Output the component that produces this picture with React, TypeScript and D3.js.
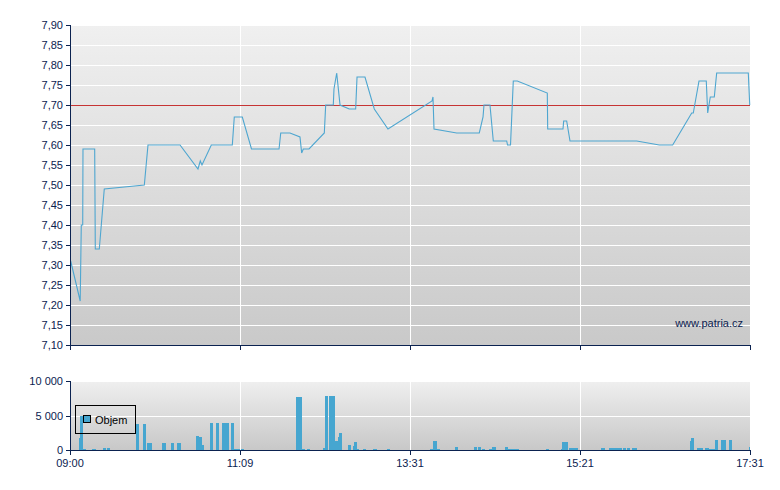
import React from "react";
import * as d3 from "d3";

// x values are positions within the trading session, 0..100 (% of session)
const timeTicks = [0, 25, 50, 75, 100];
const timeLabels = ["09:00", "11:09", "13:31", "15:21", "17:31"];

const priceTicks = [7.1, 7.15, 7.2, 7.25, 7.3, 7.35, 7.4, 7.45, 7.5, 7.55, 7.6, 7.65, 7.7, 7.75, 7.8, 7.85, 7.9];
const referencePrice = 7.7;

const pricePos = [0.1, 1.5, 1.66, 1.87, 1.91, 3.63, 3.72, 4.31, 5.04, 10.93, 11.47, 16.18, 18.82, 19.16, 19.41, 20.78, 23.87, 24.16, 25.34, 26.69, 30.74, 30.99, 32.35, 33.82, 34.07, 34.31, 35.15, 37.4, 37.6, 38.72, 38.82, 39.22, 39.71, 41.07, 42.01, 42.21, 43.38, 44.75, 46.76, 53.24, 53.38, 53.53, 56.87, 60.19, 60.74, 60.88, 61.76, 62.25, 64.22, 64.34, 64.78, 65.19, 65.78, 70.19, 70.25, 72.5, 72.6, 73.04, 73.53, 83.34, 86.66, 88.63, 91.43, 91.66, 92.5, 93.57, 93.78, 94.16, 94.75, 95.1, 99.75, 99.96];
const priceVal = [7.31, 7.21, 7.4, 7.4, 7.59, 7.59, 7.34, 7.34, 7.49, 7.5, 7.6, 7.6, 7.54, 7.56, 7.55, 7.6, 7.6, 7.67, 7.67, 7.59, 7.59, 7.63, 7.63, 7.62, 7.58, 7.59, 7.59, 7.63, 7.7, 7.7, 7.74, 7.78, 7.7, 7.69, 7.69, 7.77, 7.77, 7.69, 7.64, 7.71, 7.72, 7.64, 7.63, 7.63, 7.67, 7.7, 7.7, 7.61, 7.61, 7.6, 7.6, 7.76, 7.76, 7.73, 7.64, 7.64, 7.66, 7.66, 7.61, 7.61, 7.6, 7.6, 7.68, 7.68, 7.76, 7.76, 7.68, 7.72, 7.72, 7.78, 7.78, 7.7];

const volStart = [1.32, 1.47, 1.96, 3.24, 4.85, 5.44, 9.71, 10.69, 11.32, 13.53, 14.85, 15.74, 18.53, 18.93, 19.41, 20.59, 21.47, 22.35, 23.68, 24.12, 25.1, 33.24, 34.12, 34.81, 37.21, 37.5, 38.13, 38.97, 39.41, 39.56, 40.88, 41.62, 41.76, 42.21, 43.09, 44.56, 46.62, 52.94, 53.38, 53.97, 56.62, 59.41, 60.0, 60.59, 61.62, 62.06, 63.97, 64.41, 70.0, 72.21, 72.35, 73.38, 78.09, 79.26, 81.32, 81.91, 82.65, 91.18, 91.32, 92.21, 93.38, 93.97, 94.85, 95.74, 96.91, 99.85];
const volEnd = [1.47, 1.96, 2.35, 3.82, 5.29, 5.88, 10.15, 11.18, 12.06, 14.12, 15.29, 16.32, 18.93, 19.41, 19.71, 21.03, 21.91, 23.43, 24.12, 25.0, 25.54, 34.12, 34.56, 35.29, 37.5, 37.99, 38.97, 39.41, 39.56, 40.0, 41.32, 41.76, 42.21, 42.5, 43.53, 45.15, 47.06, 53.38, 53.97, 54.41, 57.06, 59.85, 60.44, 61.03, 62.06, 62.65, 64.41, 66.03, 70.44, 72.35, 73.24, 74.71, 78.68, 81.18, 81.76, 82.35, 83.38, 91.32, 91.76, 93.09, 93.97, 94.85, 95.29, 96.47, 97.35, 100];
const volValue = [1740, 4900, 200, 150, 300, 300, 3770, 3770, 1000, 1000, 1000, 1000, 2030, 1900, 700, 3960, 3960, 3960, 3960, 150, 150, 7680, 150, 150, 300, 7830, 7830, 1300, 1880, 2460, 700, 580, 1160, 150, 150, 150, 150, 150, 1300, 150, 430, 430, 430, 150, 150, 430, 430, 150, 150, 150, 1160, 300, 300, 300, 300, 300, 300, 1300, 1740, 300, 300, 150, 1450, 1450, 1450, 430];

const volTicks = [0, 5000, 10000];
const volLabels = ["0", "5 000", "10 000"];

const NAVY = "#0b2250";
const LINE = "#4ea6d0";
const BAR = "#46a6d0";
const FONT = "'Liberation Sans', Arial, sans-serif";

export default function App() {
  const x = d3.scaleLinear().domain([0, 100]).range([70, 750]);
  const yP = d3.scaleLinear().domain([7.1, 7.9]).range([345, 25]);
  const yV = d3.scaleLinear().domain([0, 10000]).range([450, 381]);

  const pts: [number, number][] = pricePos.map((p, i) => [p, priceVal[i]]);
  const line = d3
    .line<[number, number]>()
    .x((d) => x(d[0]))
    .y((d) => yP(d[1]));

  const fmt = (v: number) => v.toFixed(2).replace(".", ",");

  return (
    <svg
      width={780}
      height={490}
      style={{ position: "absolute", left: 0, top: 0, background: "#fff" }}
      fontFamily={FONT}
    >
      <defs>
        <linearGradient id="bgP" x1="0" y1="0" x2="0" y2="1">
          <stop offset="0" stopColor="#f0f0f0" />
          <stop offset="1" stopColor="#c9c9c9" />
        </linearGradient>
        <linearGradient id="bgV" x1="0" y1="0" x2="0" y2="1">
          <stop offset="0" stopColor="#efefef" />
          <stop offset="1" stopColor="#c8c8c8" />
        </linearGradient>
      </defs>

      {/* price panel */}
      <rect x={x(0)} y={yP(7.9)} width={x(100) - x(0)} height={yP(7.1) - yP(7.9)} fill="url(#bgP)" />
      <g shapeRendering="crispEdges">
        {priceTicks.map((t) => (
          <line key={"hg" + t} x1={x(0)} x2={x(100)} y1={Math.round(yP(t)) + 0.5} y2={Math.round(yP(t)) + 0.5} stroke="#fff" strokeWidth={1.5} />
        ))}
        {timeTicks.slice(1, -1).map((t) => (
          <line key={"vg" + t} x1={Math.round(x(t)) + 0.5} x2={Math.round(x(t)) + 0.5} y1={yP(7.9)} y2={yP(7.1)} stroke="#fff" strokeWidth={1.5} />
        ))}
        <line x1={x(0)} x2={x(100)} y1={Math.round(yP(referencePrice)) + 0.5} y2={Math.round(yP(referencePrice)) + 0.5} stroke="#c63434" strokeWidth={1} />
      </g>
      <path d={line(pts) || ""} fill="none" stroke={LINE} strokeWidth={1.1} />
      <text x={743} y={327} fontSize={11} fill={NAVY} textAnchor="end">www.patria.cz</text>

      {/* price axes */}
      <g shapeRendering="crispEdges" stroke={NAVY}>
        <line x1={70.5} x2={70.5} y1={yP(7.9)} y2={yP(7.1) + 1} />
        <line x1={70} x2={751} y1={345.5} y2={345.5} />
        {priceTicks.map((t) => (
          <line key={"yt" + t} x1={66} x2={70} y1={Math.round(yP(t)) + 0.5} y2={Math.round(yP(t)) + 0.5} />
        ))}
        {timeTicks.map((t) => (
          <line key={"xt" + t} x1={Math.round(x(t)) + 0.5} x2={Math.round(x(t)) + 0.5} y1={345} y2={350} />
        ))}
      </g>
      {priceTicks.map((t) => (
        <text key={"yl" + t} x={63} y={yP(t) + 4} fontSize={11} fill={NAVY} textAnchor="end">
          {fmt(t)}
        </text>
      ))}

      {/* volume panel */}
      <rect x={x(0)} y={yV(10000)} width={x(100) - x(0)} height={yV(0) - yV(10000)} fill="url(#bgV)" />
      <g shapeRendering="crispEdges">
        {volTicks.slice(1).map((t) => (
          <line key={"vhg" + t} x1={x(0)} x2={x(100)} y1={Math.round(yV(t)) + 0.5} y2={Math.round(yV(t)) + 0.5} stroke="#fff" strokeWidth={1.5} />
        ))}
        {timeTicks.slice(1, -1).map((t) => (
          <line key={"vvg" + t} x1={Math.round(x(t)) + 0.5} x2={Math.round(x(t)) + 0.5} y1={yV(10000)} y2={yV(0)} stroke="#fff" strokeWidth={1.5} />
        ))}
        {volValue.map((v, i) => (
          <rect key={"b" + i} x={x(volStart[i])} y={yV(v)} width={Math.max(1, x(volEnd[i]) - x(volStart[i]))} height={yV(0) - yV(v)} fill={BAR} />
        ))}
      </g>

      {/* legend */}
      <g shapeRendering="crispEdges">
        <rect x={75.5} y={405.5} width={60} height={28} fill="none" stroke="#000" strokeWidth={1} />
        <rect x={83.5} y={415.5} width={7} height={7} fill={BAR} stroke="#000" strokeWidth={1} />
      </g>
      <text x={95} y={424} fontSize={11} fill="#000">Objem</text>

      {/* volume axes */}
      <g shapeRendering="crispEdges" stroke={NAVY}>
        <line x1={70.5} x2={70.5} y1={yV(10000)} y2={yV(0) + 1} />
        <line x1={70} x2={751} y1={450.5} y2={450.5} />
        {volTicks.map((t) => (
          <line key={"vyt" + t} x1={66} x2={70} y1={Math.round(yV(t)) + 0.5} y2={Math.round(yV(t)) + 0.5} />
        ))}
        {timeTicks.map((t) => (
          <line key={"vxt" + t} x1={Math.round(x(t)) + 0.5} x2={Math.round(x(t)) + 0.5} y1={450} y2={455} />
        ))}
      </g>
      {volTicks.map((t, i) => (
        <text key={"vyl" + t} x={63} y={yV(t) + 4} fontSize={11} fill={NAVY} textAnchor="end">
          {volLabels[i]}
        </text>
      ))}
      {timeTicks.map((t, i) => (
        <text key={"xl" + t} x={x(t)} y={467} fontSize={11} fill={NAVY} textAnchor="middle">
          {timeLabels[i]}
        </text>
      ))}
    </svg>
  );
}
